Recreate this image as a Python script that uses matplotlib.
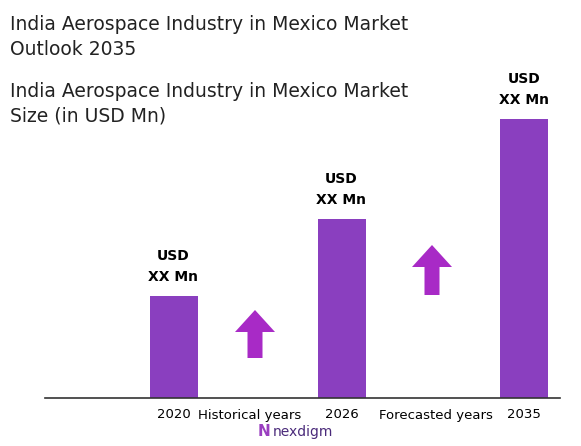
import matplotlib
matplotlib.use("Agg")
import matplotlib.pyplot as plt
from matplotlib.patches import FancyArrow

categories = ["2020", "2026", "2035"]
values = [102, 179, 279]
labels = ["USD\nXX Mn"] * 3
periods = ["Historical years", "Forecasted years"]

W, H = 581, 446
fig = plt.figure(figsize=(W/100, H/100), dpi=100)
ax = fig.add_axes([0, 0, 1, 1])
ax.set_xlim(0, W)
ax.set_ylim(-48, 398)
ax.axis("off")

xpos = [173.5, 341.5, 524]
ax.bar(xpos, values, width=48, color="#8a3fbf")
for x, v, l in zip(xpos, values, labels):
    ax.text(x, v + 12, l, ha="center", va="bottom", fontsize=10, fontweight="bold",
            linespacing=1.6, family="DejaVu Sans")
ax.plot([45, 560], [0, 0], color="#333333", lw=1.2)
for x, c in zip(xpos, categories):
    ax.text(x, -17, c, ha="center", va="center", fontsize=9.5)
ax.text(250, -17, periods[0], ha="center", va="center", fontsize=9.5)
ax.text(436, -17, periods[1], ha="center", va="center", fontsize=9.5)

for cx, y0, y1 in [(255, 40, 88), (432, 103, 153)]:
    ax.add_patch(FancyArrow(cx, y0, 0, y1 - y0, width=15, head_width=40,
                            head_length=22, length_includes_head=True,
                            color="#a82ac6", lw=0))

ax.text(10, 398 - 37, "India Aerospace Industry in Mexico Market\nOutlook 2035",
        ha="left", va="center", fontsize=13.5, color="#222222", linespacing=1.4)
ax.text(10, 398 - 104, "India Aerospace Industry in Mexico Market\nSize (in USD Mn)",
        ha="left", va="center", fontsize=13.5, color="#222222", linespacing=1.4)
ax.text(303, -34, "nexdigm", ha="center", va="center", fontsize=10, color="#4a2a7a")
ax.text(264, -34, "N", ha="center", va="center", fontsize=11, color="#9a3fc0", fontweight="bold")

fig.savefig("out.png", dpi=100)
